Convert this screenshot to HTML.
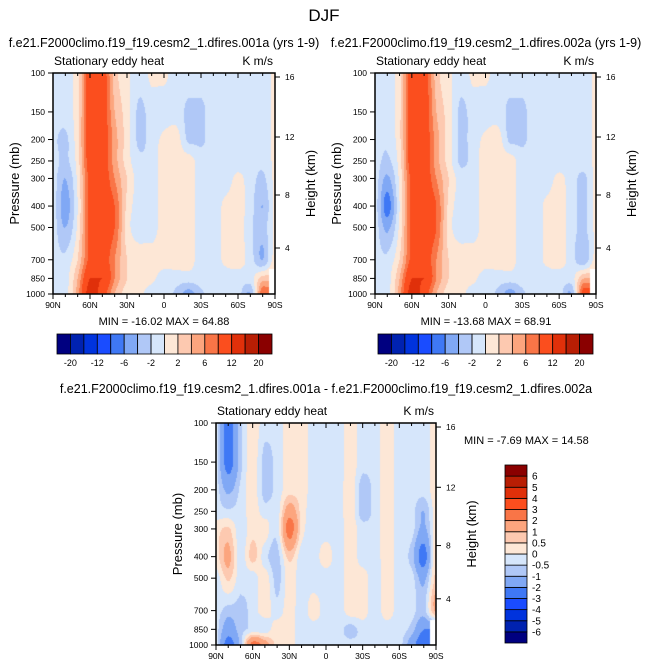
<!DOCTYPE html>
<html><head><meta charset="utf-8"><style>
body{margin:0;background:#fff;width:648px;height:669px;overflow:hidden;position:relative;font-family:"Liberation Sans",sans-serif}
canvas{position:absolute}
svg{position:absolute;left:0;top:0}
</style></head><body>
<canvas id="c1"></canvas>
<canvas id="c2"></canvas>
<canvas id="c3"></canvas>
<svg id="s" width="648" height="669"></svg>
<script>
const lats=[90,80,70,60,50,40,30,20,10,0,-10,-20,-30,-40,-50,-60,-70,-80,-90];
const levs=[100,150,200,250,300,400,500,700,850,1000];
const colors=["#000080","#0022b0","#0033dd","#1a4cff","#3f78f5","#80a8f5","#b0c8f7","#d6e6fb","#fde7d6","#fdc9b0","#fca57e","#f97547","#fb4e1e","#e0300a","#b81e04","#8a0000"];
const levelsA=[-20,-16,-12,-8,-6,-4,-2,0,2,4,6,8,12,16,20];
const levelsD=[-6,-5,-4,-3,-2,-1,-0.5,0,0.5,1,2,3,4,5,6];
const labelsA=["-20","-12","-6","-2","2","6","12","20"];
const labelsD=["6","5","4","3","2","1","0.5","0","-0.5","-1","-2","-3","-4","-5","-6"];
const field1=[
[-1,-1,1.5,10,10,3,0.5,-1,0.5,0.5,-1,-1,-1,-1,-1,-1,-1,-1,0.5],
[-1,-1,1.5,10,10,4,1,-2.5,-1,-1,-1,-2.5,-2.5,-1,-1,-1,-1,-1,0.5],
[-1.5,-2.5,1.5,10,10,5,1,-2.5,-1,0.5,1,-2.5,-2.5,-1,-1,-1,-1,-1,0.5],
[-1,-2.5,1,10,10,5,1,-1.5,-1,1,1,1,-1,-1,-1,-1,-1,-1.5,0.5],
[-1,-4,0.5,9,10,6,2,-1,-1,1,1,1,-1,-1,-1,0.5,-1,-2.5,0.5],
[-1,-5,0,9,10,8,1.5,-1,-1,1,1,1,-1,-1,0.5,1,-1,-4,0.5],
[-1,-4,0.5,9,10,8,1,-1,-1,1,1,1,-1,-1,0.5,1,-1.5,-3,0.5],
[-1,-1.5,2,9,10,6,2,1,1,1,1,1,-1,-1,0.5,1,-1,-4,1],
[-1,-1,4,12,12,6,2,1,0.5,-1,-1,-1,-1,-1,-1,-1,-1,3,null],
[-1,-1,5,14,10,4,1,0.5,-1,-1,-2.5,-5,-2.5,-1,-1,-1,-4,8,null]];
const field2=[
[-1,-1,1.5,10,10,3,0.5,-1,0.5,0.5,-1,-1,-1,-1,-1,-1,-1,-1,0.5],
[-1,-1,1.5,10,10,4,1,-2.5,-1,-1,-1,-2.5,-2.5,-1,-1,-1,-1,-1,0.5],
[-1,-1.5,1.5,10,10,5,1,-2.5,-1,0.5,1,-2.5,-2.5,-1,-1,-1,-1,-1,0.5],
[-1,-2.5,1,10,10,5,1,-2.5,-1,1,1,1,-1,-1,-1,-1,-1,-1,0.5],
[-1,-4.5,0.5,9,10,6,2,-1,-1,1,1,1,-1,-1,-1,0.5,-1,-2.5,0.5],
[-1,-7,0,9,10,8,1.5,-1,-1,1,1,1,-1,-1,0.5,1,-1,-2.5,0.5],
[-1,-4.5,0.5,9,10,8,1,-1,-1,1,1,1,-1,-1,0.5,1,-1,-2.5,0.5],
[-1,-1.5,2,9,10,6,2,1,1,1,1,1,-1,-1,0.5,1,-1,-3.5,1],
[-1,-1,4,12,12,6,2,1,0.5,-1,-1,-1,-1,-1,-1,-1,-1,4,null],
[-1,-1,5,14,10,4,1,0.5,-1,-1,-2.5,-5,-2.5,-1,-1,-1,-4,10,null]];
const field3=[
[-0.3,-2.5,-0.7,0.3,-0.3,-0.3,0.3,0.3,-0.3,-0.3,-0.3,0.3,-0.3,-0.3,0.3,-0.3,-0.3,-0.3,0.3],
[-0.3,-2.5,-0.7,0.3,-0.7,-0.3,0.3,0.3,-0.3,-0.3,-0.3,0.3,-0.3,-0.3,0.3,-0.3,-0.3,-0.3,0.3],
[-0.3,-1.2,-0.4,0.3,-0.7,-0.3,0.3,0.3,-0.3,-0.3,-0.3,0.3,-0.8,-0.3,0.3,-0.3,-0.3,-0.3,0.3],
[-0.3,-0.4,-0.3,0.3,-0.3,-0.3,1.5,0.3,-0.3,-0.3,-0.3,0.3,-0.8,-0.3,0.3,-0.3,-0.3,-1,0.3],
[0.3,0.6,-0.3,0.3,0.3,-0.3,2.5,0.3,-0.3,-0.3,-0.3,0.3,-0.3,-0.3,0.3,-0.3,-0.3,-1.2,0.3],
[0.3,1.2,-0.3,0.7,-0.3,-0.7,0.7,-0.3,-0.3,0.3,-0.3,0.3,-0.3,-0.3,0.3,-0.3,-0.7,-2.5,0.7],
[-0.3,0.6,-0.3,-0.3,0.3,-0.7,0.3,-0.3,-0.3,-0.3,-0.3,0.3,0.3,-0.3,0.3,-0.3,-0.3,-1.2,0.7],
[-0.3,-0.7,-0.7,-0.3,0.3,-0.3,0.3,-0.3,0.3,-0.3,-0.3,0.3,0.3,-0.3,0.3,-0.3,-0.3,-0.7,1.2],
[-0.3,-1.5,-0.7,-0.4,-0.3,0.3,0.3,-0.3,-0.3,-0.3,-0.3,-0.7,-0.3,-0.3,-0.3,-0.3,-0.7,-2,null],
[-0.3,-2.5,-0.8,2.5,1.5,0.3,0.3,-0.3,-0.3,-0.3,-0.3,-0.3,-0.3,-0.3,-0.3,-0.3,-1.5,-3,null]];
const xTickLabels=["90N","60N","30N","0","30S","60S","90S"];
const pTicks=[100,150,200,250,300,400,500,700,850,1000];
const hTicks=["16","12","8","4"];

const S=document.getElementById('s');const NS="http://www.w3.org/2000/svg";
function el(t,a,txt){const e=document.createElementNS(NS,t);for(const k in a)e.setAttribute(k,a[k]);if(txt!==undefined)e.textContent=txt;S.appendChild(e);return e;}
function txt(x,y,s,size,anchor,name,extra){const e=el('text',Object.assign({x:x,y:y,'font-size':size,'text-anchor':anchor||'middle',fill:'#000'},extra||{}),s);return e;}
function colorFor(v,lv){let i=0;while(i<lv.length&&v>=lv[i])i++;return colors[i];}
function cr(arr,t){const n=arr.length;let i=Math.floor(t);if(i>n-2)i=n-2;if(i<0)i=0;const f=t-i;
  const p0=arr[Math.max(0,i-1)],p1=arr[i],p2=arr[i+1],p3=arr[Math.min(n-1,i+2)];
  const v=0.5*((2*p1)+(-p0+p2)*f+(2*p0-5*p1+4*p2-p3)*f*f+(-p0+3*p1-3*p2+p3)*f*f*f);
  const lo=Math.min(p1,p2),hi=Math.max(p1,p2);return Math.max(lo-(hi-lo)*0.3,Math.min(hi+(hi-lo)*0.3,v));}
function fillNulls(field){return field.map(row=>row.map((v,c)=>{if(v!==null)return v;let k=c-1;while(row[k]===null)k--;return row[k];}));}

function panel(id,field,lv,X0,Y0,W,H,pfx){
  const xs=lat=>X0+(90-lat)/180*W;
  const ys=p=>Y0+Math.log10(p/100)*H;
  const cv=document.getElementById(id);cv.width=W;cv.height=H;cv.style.left=X0+'px';cv.style.top=Y0+'px';
  const ctx=cv.getContext('2d');
  const F=fillNulls(field);
  const rowY=levs.map(p=>ys(p)-Y0), colX=lats.map(l=>xs(l)-X0);
  for(let py=0;py<H;py++){
    let r=0;while(r<levs.length-2&&rowY[r+1]<py+0.5)r++;
    const ty=Math.min(1,Math.max(0,(py+0.5-rowY[r])/(rowY[r+1]-rowY[r])));
    const rf=r+ty;
    for(let px=0;px<W;px++){
      let c=0;while(c<lats.length-2&&colX[c+1]<px+0.5)c++;
      const tx=Math.min(1,Math.max(0,(px+0.5-colX[c])/(colX[c+1]-colX[c])));
      const cf=c+tx;
      if(field[Math.round(rf)][Math.round(cf)]===null)continue;
      const col=[];for(let k=0;k<levs.length;k++)col.push(cr(F[k],cf));
      const v=cr(col,rf);
      ctx.fillStyle=colorFor(v,lv);ctx.fillRect(px,py,1,1);
    }
  }
  const f=el('rect',{x:X0,y:Y0,width:W,height:H,fill:'none',stroke:'#000','stroke-width':1.5});
  
  for(let l=90;l>=-90;l-=10){const x=xs(l);const maj=l%30===0;
    el('line',{x1:x,x2:x,y1:Y0+H,y2:Y0+H+(maj?5:3),stroke:'#000','stroke-width':1});
    el('line',{x1:x,x2:x,y1:Y0,y2:Y0+(maj?5:3),stroke:'#000','stroke-width':1});}
  xTickLabels.forEach((s,i)=>txt(X0+i*W/6,Y0+H+14,s,8.5,'middle',pfx+'-x-tick-label'));
  pTicks.forEach(p=>{const y=ys(p);el('line',{x1:X0-5,x2:X0,y1:y,y2:y,stroke:'#000'});txt(X0-8,y+3,String(p),8.5,'end',pfx+'-y-tick-label');});
  const hy=[4,64,122,175];
  hTicks.forEach((s,i)=>{const y=Y0+hy[i]*H/221;el('line',{x1:X0+W,x2:X0+W+5,y1:y,y2:y,stroke:'#000'});txt(X0+W+10,y+3,s,8.5,'start',pfx+'-height-tick-label');});
  txt(X0+1,Y0-8,'Stationary eddy heat',12,'start',pfx+'-left-string');
  txt(X0+W-2,Y0-8,'K m/s',12,'end',pfx+'-units-label');
  txt(X0-34,Y0+H/2,'Pressure (mb)',13,'middle',pfx+'-y-axis-title',{transform:`rotate(-90 ${X0-34} ${Y0+H/2})`});
  txt(X0+W+40,Y0+H/2,'Height (km)',13,'middle',pfx+'-right-axis-title',{transform:`rotate(-90 ${X0+W+40} ${Y0+H/2})`});
}
function hbar(x0,y0,w,h,pfx){const bw=w/16;
  colors.forEach((c,i)=>{const r=el('rect',{x:x0+i*bw,y:y0,width:bw,height:h,fill:c,stroke:'#000','stroke-width':0.8});});
  labelsA.forEach((s,i)=>txt(x0+(1+2*i)*bw,y0+h+12,s,9,'middle',pfx+'-colorbar-label'));}
function vbar(x0,y0,w,h,pfx){const bh=h/16;
  colors.forEach((c,i)=>{const r=el('rect',{x:x0,y:y0+(15-i)*bh,width:w,height:bh,fill:c,stroke:'#000','stroke-width':0.8});});
  labelsD.forEach((s,i)=>txt(x0+w+5,y0+(i+1)*bh+3.5,s,10,'start',pfx+'-colorbar-label'));}

txt(324,21,'DJF',17,'middle','main-title');
txt(164,47,'f.e21.F2000climo.f19_f19.cesm2_1.dfires.001a (yrs 1-9)',12.5,'middle','left-panel-title');
txt(486,47,'f.e21.F2000climo.f19_f19.cesm2_1.dfires.002a (yrs 1-9)',12.5,'middle','right-panel-title');
txt(326,393,'f.e21.F2000climo.f19_f19.cesm2_1.dfires.001a - f.e21.F2000climo.f19_f19.cesm2_1.dfires.002a',12.5,'middle','diff-panel-title');
panel('c1',field1,levelsA,53,73,222,221,'left');
panel('c2',field2,levelsA,375,73,221,221,'right');
panel('c3',field3,levelsD,216,423,220,222,'diff');
txt(164,325,'MIN = -16.02  MAX =  64.88',11,'middle','left-min-max');
txt(486,325,'MIN = -13.68  MAX =  68.91',11,'middle','right-min-max');
txt(464,444,'MIN =  -7.69  MAX = 14.58',11,'start','diff-min-max');
hbar(57,334,215,20,'left');
hbar(378,334,215,20,'right');
vbar(505,465,22,178,'diff');
</script>
</body></html>
